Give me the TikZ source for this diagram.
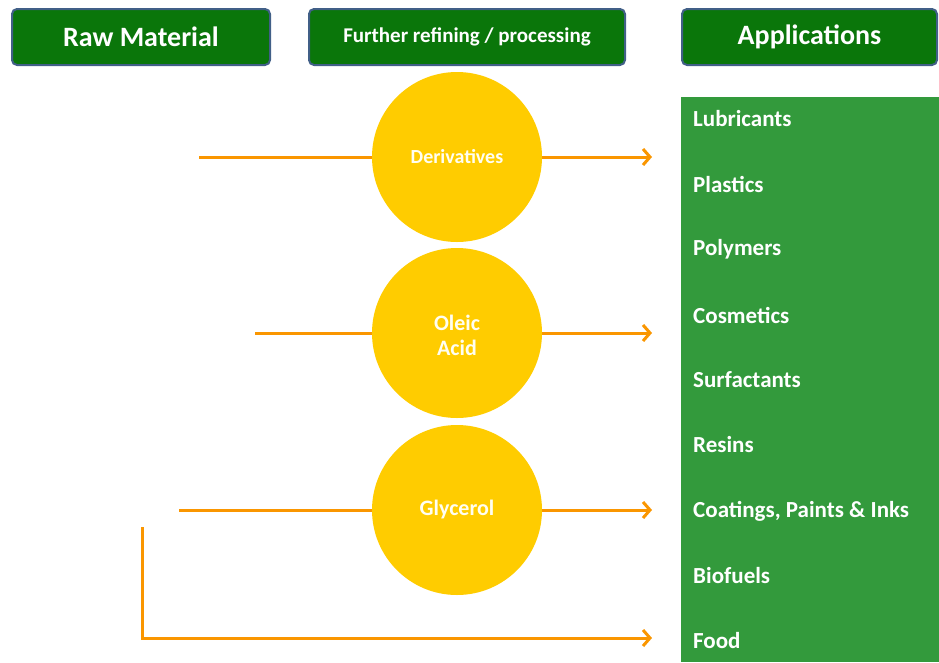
\documentclass[tikz,border=0pt]{standalone}
\usepackage{fontspec}
\setmainfont{Carlito}
\usetikzlibrary{arrows.meta}
\definecolor{hdrgreen}{RGB}{10,118,10}
\definecolor{hdrborder}{RGB}{65,95,135}
\definecolor{panelgreen}{RGB}{51,154,60}
\definecolor{circyellow}{RGB}{255,204,0}
\definecolor{arrorange}{RGB}{250,150,0}
\tikzset{
  hdr/.style={draw=hdrborder, line width=2pt, fill=hdrgreen, rounded corners=5pt,
    text=white, font=\bfseries, inner sep=0pt},
  proc/.style={circle, fill=circyellow, minimum size=170pt, inner sep=0pt,
    text=white!95!yellow, font=\bfseries, align=center},
  app/.style={anchor=west, text=white, font=\fontsize{23}{25}\selectfont\bfseries, inner sep=0pt},
  flow/.style={draw=arrorange, line width=3pt},
  flowarr/.style={flow, -{Straight Barb[length=7pt,width=16pt,line width=3pt]}},
}
\begin{document}
\begin{tikzpicture}[x=1pt,y=-1pt]
\useasboundingbox (0,0) rectangle (939,662);
% headers
\node[hdr, minimum width=258pt, minimum height=56pt, font=\fontsize{28}{30}\selectfont\bfseries] (h1) at (141,37) {Raw Material};
\node[hdr, minimum width=316pt, minimum height=56pt, font=\fontsize{21}{23}\selectfont\bfseries] (h2) at (467,37) {Further refining / processing};
\node[hdr, minimum width=255pt, minimum height=56pt, font=\fontsize{28}{30}\selectfont\bfseries] (h3) at (809.5,37) {Applications};
% panel
\fill[panelgreen] (681,97) rectangle (939,662);
% application labels
\foreach \t/\y [count=\i] in {Lubricants/119, Plastics/184, Polymers/249, Cosmetics/315,
  Surfactants/380, Resins/445, {Coatings, Paints \& Inks}/511, Biofuels/576, Food/641}
  \node[app] (a\i) at (693,\y) {\t};
% coordinates
\coordinate (s1) at (199,157);
\coordinate (e1) at (652,157);
\coordinate (s2) at (255,333);
\coordinate (e2) at (652,333);
\coordinate (s3) at (179,510);
\coordinate (e3) at (652,510);
\coordinate (s4) at (142,527);
\coordinate (c4) at (142,638);
\coordinate (e4) at (652,638);
% circles
\node[proc, font=\fontsize{20}{22}\selectfont\bfseries] (d) at (457,157) {Derivatives};
\node[proc] (o) at (457,333) {};
\node[text=white!95!yellow, font=\fontsize{22}{25}\selectfont\bfseries, align=center, inner sep=0pt] (ot) at (457,335) {Oleic\\Acid};
\node[proc, font=\fontsize{22}{24}\selectfont\bfseries] (g) at (457,510) {Glycerol};
% flows
\draw[flow] (s1) -- (d);
\draw[flowarr] (d) -- (e1);
\draw[flow] (s2) -- (o);
\draw[flowarr] (o) -- (e2);
\draw[flow] (s3) -- (g);
\draw[flowarr] (g) -- (e3);
\draw[flowarr] (s4) -- (c4) -- (e4);
\end{tikzpicture}
\end{document}
